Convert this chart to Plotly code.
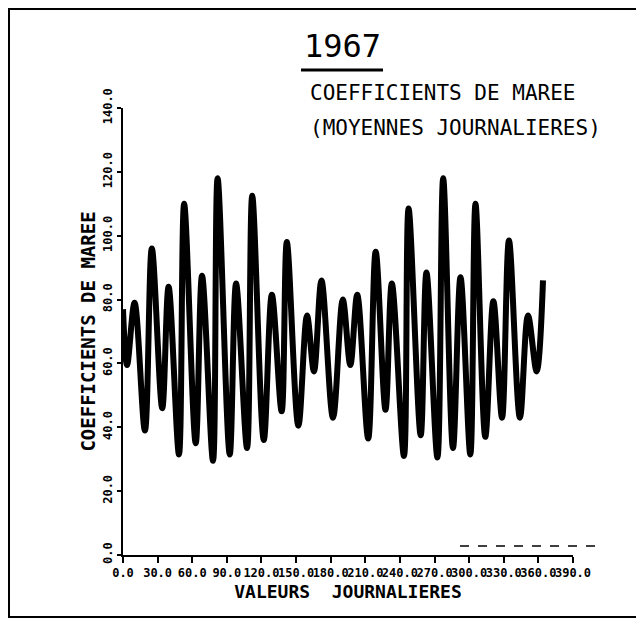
import plotly.graph_objects as go

# ---- data (day of year, daily mean tide coefficient) ----
days = [0, 3.5, 10, 19, 25, 34, 39.5, 48.5, 53, 63,
        68.5, 78, 82, 92.5, 98, 107.5, 112, 122, 129, 137.5,
        142, 152, 159.5, 165.5, 172, 182, 190.5, 197, 203, 212.5,
        219, 227.5, 233, 243.5, 247.5, 258, 263, 272.5, 277.5, 286,
        292.5, 301, 305.5, 314, 321, 328.5, 334.5, 344, 351, 358.5,
        364]
coef = [77, 59.5, 79, 39, 96, 46, 84, 31.5, 110, 35,
        87.5, 29.5, 118, 31.5, 85, 33.5, 112.5, 36, 81.5, 45,
        98, 40.5, 75, 57.5, 86, 43, 80, 59.5, 81.5, 36.5,
        95, 45.5, 85, 31, 108.5, 37.5, 88.5, 30.5, 118, 33.5,
        87, 31.5, 110, 37, 79.5, 43, 98.5, 43, 75, 57.5,
        86]

x_ticks = [0, 30, 60, 90, 120, 150, 180, 210, 240, 270, 300, 330, 360, 390]
y_ticks = [0, 20, 40, 60, 80, 100, 120, 140]

year_label = "1967"
caption_1 = "COEFFICIENTS DE MAREE"
caption_2 = "(MOYENNES JOURNALIERES)"
x_title = "VALEURS  JOURNALIERES"
y_title = "COEFFICIENTS DE MAREE"

# page body has an 8px margin, so the figure is drawn 8px in from the corner
OFF = 8
W, H = 636, 616
L, T = 115, 100
PW, PH = 450, 447
R, B = W - L - PW, H - T - PH


def rx(x):
    return (x - OFF - L) / PW


def ry(y):
    return (H - B - (y - OFF)) / PH


mono = "DejaVu Sans Mono"

fig = go.Figure()
fig.add_trace(go.Scatter(
    x=days, y=coef, mode="lines",
    line=dict(color="black", width=6, shape="spline", smoothing=1.0),
    hoverinfo="skip", showlegend=False,
))

fig.update_layout(
    width=W, height=H,
    margin=dict(l=L, r=R, t=T, b=B, pad=0),
    paper_bgcolor="white", plot_bgcolor="white",
    font=dict(family=mono, color="black"),
    xaxis=dict(
        range=[0, 390], tickvals=x_ticks, tickformat=".1f", tickangle=0,
        showgrid=False, zeroline=False, showline=True, linecolor="black",
        linewidth=2, ticks="outside", ticklen=6, tickwidth=2, tickcolor="black",
        tickfont=dict(family=mono, size=12, weight="bold"),
        title=dict(text=x_title, font=dict(family=mono, size=18, weight="bold"),
                   standoff=6),
    ),
    yaxis=dict(
        range=[0, 140], tickvals=y_ticks, tickformat=".1f", tickangle=-90,
        showgrid=False, zeroline=False, showline=True, linecolor="black",
        linewidth=2, ticks="outside", ticklen=4, tickwidth=2, tickcolor="black",
        tickfont=dict(family=mono, size=12, weight="bold"),
        title=dict(text=y_title, font=dict(family=mono, size=19, weight="bold"),
                   standoff=1),
    ),
)

# year title with thick underline
fig.add_annotation(x=rx(342), y=ry(46), xref="paper", yref="paper",
                   text=year_label, showarrow=False,
                   font=dict(family=mono, size=32, color="black"),
                   xanchor="center", yanchor="middle")
fig.add_shape(type="line", xref="paper", yref="paper",
              x0=rx(301), x1=rx(383), y0=ry(70), y1=ry(70),
              line=dict(color="black", width=3))

# caption lines
fig.add_annotation(x=rx(308), y=ry(93), xref="paper", yref="paper",
                   text=caption_1, showarrow=False,
                   font=dict(family=mono, size=21, color="black"),
                   xanchor="left", yanchor="middle")
fig.add_annotation(x=rx(308), y=ry(128), xref="paper", yref="paper",
                   text=caption_2, showarrow=False,
                   font=dict(family=mono, size=21, color="black"),
                   xanchor="left", yanchor="middle")

# outer frame
fig.add_shape(type="rect", xref="paper", yref="paper",
              x0=rx(9), x1=rx(637), y0=ry(617), y1=ry(9),
              line=dict(color="black", width=2))

# faint stray line near bottom right (scan mark)
fig.add_shape(type="line", xref="paper", yref="paper",
              x0=rx(460), x1=rx(598), y0=ry(546), y1=ry(546),
              line=dict(color="black", width=1.5, dash="dash"))

fig.write_html("out.html")
